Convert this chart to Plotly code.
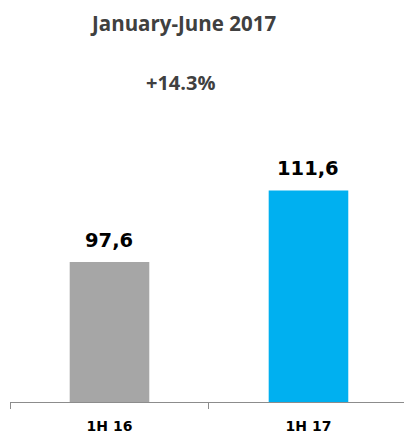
import plotly.graph_objects as go

categories = ["1H 16", "1H 17"]
values = [97.6, 111.6]
value_labels = ["97,6", "111,6"]
colors = ["#A6A6A6", "#00B0F0"]
title_text = "January-June 2017"
growth_text = "+14.3%"

W, H = 404, 434
ml, mr, mt, mb = 10, 0, 100, 30
pw = W - ml - mr
ph = H - mt - mb

def px_x(px):
    return (px - ml) / pw

def px_y(py):
    return (H - mb - py) / ph

fig = go.Figure()
fig.add_trace(go.Bar(x=categories, y=values, marker=dict(color=colors, line=dict(width=0)),
                     width=0.4, hoverinfo="skip"))

annotations = []
for c, v, t in zip(categories, values, value_labels):
    annotations.append(dict(x=c, y=v, text="<b>" + t + "</b>", showarrow=False, yanchor="bottom", yshift=8,
                            font=dict(family="DejaVu Sans", size=19.5, color="#000000"),
                            xref="x", yref="y"))
annotations.append(dict(x=px_x(183), y=px_y(22), text="<b>" + title_text + "</b>", showarrow=False,
                        xref="paper", yref="paper", xanchor="center", yanchor="middle",
                        font=dict(family="Open Sans", size=20.5, color="#404040")))
annotations.append(dict(x=px_x(180), y=px_y(82), text="<b>" + growth_text + "</b>", showarrow=False,
                        xref="paper", yref="paper", xanchor="center", yanchor="middle",
                        font=dict(family="Open Sans", size=20, color="#404040")))

fig.update_layout(
    width=W, height=H,
    margin=dict(l=ml, r=mr, t=mt, b=mb, pad=0),
    paper_bgcolor="white", plot_bgcolor="white",
    showlegend=False,
    annotations=annotations,
    xaxis=dict(type="category", range=[-0.5, 1.48], showline=True, linecolor="#8C8C8C", linewidth=1,
               ticks="outside", tickson="boundaries", ticklen=6, tickcolor="#8C8C8C",
               ticklabelstandoff=11,
               showgrid=False, zeroline=False,
               tickfont=dict(family="DejaVu Sans", size=14, color="#000000")),
    yaxis=dict(range=[70.18, 129.29], visible=False, showgrid=False, zeroline=False),
)
fig.update_xaxes(tickprefix="<b>", ticksuffix="</b>")

fig.write_html("out.html", config={"displayModeBar": False},
               post_script="document.body.style.margin='0px';")
